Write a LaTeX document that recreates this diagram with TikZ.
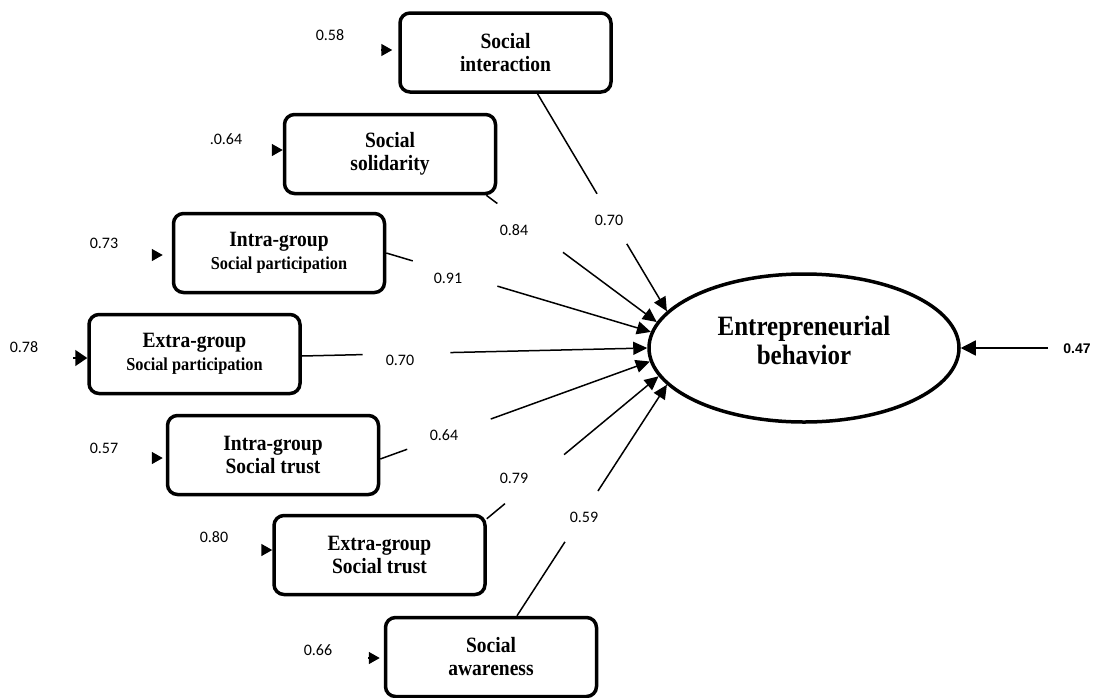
\documentclass[tikz,border=0pt]{standalone}
\usepackage{fontspec}
\usepackage{graphicx}
\setmainfont{Liberation Serif}
\newfontfamily\numfont{Carlito}
\newfontfamily\bsans{Liberation Sans}
\usetikzlibrary{arrows.meta,calc,shapes.geometric}
\newcommand\tallline[1]{\scalebox{1}[1.12]{#1}}
\begin{document}
\begin{tikzpicture}[x=1pt,y=-1pt,
  box/.style={draw, line width=3.5pt, rounded corners=10pt, minimum width=211pt,
    minimum height=79pt, align=center, inner sep=2pt,
    font=\bfseries\fontsize{19.5}{23}\selectfont},
  num/.style={font=\numfont\fontsize{16}{18}\selectfont, inner sep=0pt},
  conn/.style={line width=1.5pt},
  toell/.style={conn, -{Triangle[length=14pt,width=13pt]}},
  errtip/.style={line width=1.5pt, -{Triangle[length=11pt,width=12pt]}}
]
\fill[white] (0,0) rectangle (1100,697);
\useasboundingbox (0,0) rectangle (1100,697);

% boxes
\node[box] (b1) at (505.5,52.5) {\tallline{Social}\\\tallline{interaction}};
\node[box] (b2) at (390,154) {\tallline{Social}\\\tallline{solidarity}};
\node[box] (b3) at (279,253) {\tallline{Intra-group}\\{\fontsize{16.3}{19}\selectfont\tallline{Social participation}}};
\node[box] (b4) at (194.5,354) {\tallline{Extra-group}\\{\fontsize{16.3}{19}\selectfont\tallline{Social participation}}};
\node[box] (b5) at (273,455) {\tallline{Intra-group}\\\tallline{Social trust}};
\node[box] (b6) at (379.5,555) {\tallline{Extra-group}\\\tallline{Social trust}};
\node[box] (b7) at (491,657) {\tallline{Social}\\\tallline{awareness}};

% ellipse
\node[ellipse, draw, line width=3.5pt, minimum width=310pt, minimum height=148pt,
  inner sep=0pt, align=center, text depth=16pt,
  font=\bfseries\fontsize{25}{29}\selectfont] (ell) at (804,348)
  {\tallline{Entrepreneurial}\\\tallline{behavior}};

% start points of the paths
\coordinate (s1) at ([xshift=32pt]b1.south);
\coordinate (s2) at ([xshift=-11pt]b2.south east);
\coordinate (s3) at (b3.east);
\coordinate (s4) at ([yshift=-2pt]b4.east);
\coordinate (s5) at ([yshift=-4pt]b5.east);
\coordinate (s6) at ([yshift=-5pt]b6.north east);
\coordinate (s7) at ([xshift=26pt]b7.north);

% paths with gaps
\draw[conn] (s1) -- ($(s1)!0.46!(ell.165)$);
\draw[toell] ($(s1)!0.69!(ell.165)$) -- (ell.165);
\draw[conn] (s2) -- ($(s2)!0.065!(ell.170.5)$);
\draw[toell] ($(s2)!0.45!(ell.170.5)$) -- (ell.170.5);
\draw[conn] (s3) -- ($(s3)!0.10!(ell.174.5)$);
\draw[toell] ($(s3)!0.42!(ell.174.5)$) -- (ell.174.5);
\draw[conn] (s4) -- ($(s4)!0.176!(ell.180)$);
\draw[toell] ($(s4)!0.43!(ell.180)$) -- (ell.180);
\draw[conn] (s5) -- ($(s5)!0.10!(ell.185)$);
\draw[toell] ($(s5)!0.41!(ell.185)$) -- (ell.185);
\draw[conn] (s6) -- ($(s6)!0.106!(ell.191)$);
\draw[toell] ($(s6)!0.45!(ell.191)$) -- (ell.191);
\draw[conn] (s7) -- ($(s7)!0.32!(ell.195.5)$);
\draw[toell] ($(s7)!0.54!(ell.195.5)$) -- (ell.195.5);

% path labels
\node[num] (l1) at (609,220) {0.70};
\node[num] (l2) at (514,230) {0.84};
\node[num] (l3) at (448,278) {0.91};
\node[num] (l4) at (400,360) {0.70};
\node[num] (l5) at (444,435) {0.64};
\node[num] (l6) at (514,478) {0.79};
\node[num] (l7) at (584,517) {0.59};

% error terms
\coordinate (z1) at (381,50);
\coordinate (z2) at (272,150);
\coordinate (z3) at (153,255);
\coordinate (z4) at (73,358);
\coordinate (z5) at (152,458);
\coordinate (z6) at (262,550);
\coordinate (z7) at (368,658);
\draw[errtip, shorten >=6pt] (z1) -- (b1.west |- z1);
\draw[errtip] (z2) -- (b2.west |- z2);
\draw[errtip, shorten >=9pt] (z3) -- (b3.west |- z3);
\draw[line width=1.5pt, -{Triangle[length=12pt,width=16pt]}] (z4) -- (b4.west |- z4);
\draw[errtip, shorten >=3pt] (z5) -- (b5.west |- z5);
\draw[errtip] (z6) -- (b6.west |- z6);
\draw[errtip, shorten >=4pt] (z7) -- (b7.west |- z7);

\node[num] (n1) at (330,35) {0.58};
\node[num] (n2) at (226,139) {.0.64};
\node[num] (n3) at (104,243) {0.73};
\node[num] (n4) at (24,347) {0.78};
\node[num] (n5) at (104,448) {0.57};
\node[num] (n6) at (214,537) {0.80};
\node[num] (n7) at (318,650) {0.66};

% residual of the outcome
\coordinate (r) at (1048,348);
\draw[conn, -{Triangle[length=15pt,width=15pt]}] (r) -- (ell.east);
\node[font=\bsans\bfseries\fontsize{14}{16}\selectfont, inner sep=0pt] (l47) at (1077,349) {0.47};
\end{tikzpicture}
\end{document}
